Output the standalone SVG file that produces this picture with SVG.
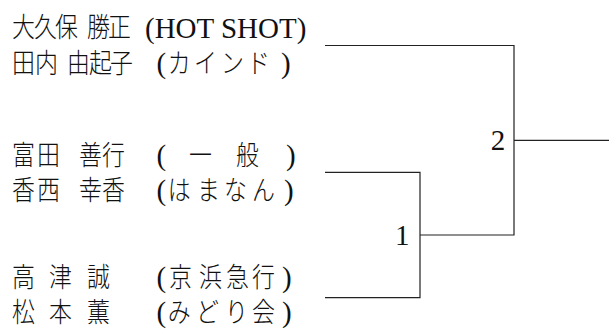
<svg xmlns="http://www.w3.org/2000/svg" width="613" height="329" viewBox="0 0 613 329">
<style>
.cj{font-family:"Noto Sans CJK JP","Noto Sans CJK SC",sans-serif;font-size:27px;font-weight:300;fill:#111}
.lt{font-family:"Liberation Serif","Noto Sans CJK JP",serif;font-size:29px;fill:#111}
.num{font-family:"Liberation Serif",serif;font-size:29px;fill:#111}
.ln{fill:none;stroke:#222;stroke-width:1.2}
</style>
<rect width="613" height="329" fill="#fff"/>
<g id="connectors">
<polyline class="ln" points="325,45.5 514,45.5 514,235 420,235"/>
<line class="ln" x1="514" y1="140.3" x2="609" y2="140.3"/>
<polyline class="ln" points="325,172.3 420,172.3 420,297.7 325,297.7"/>
</g>
<g id="p1">
<g transform="scale(0.85 1)"><text class="cj" x="14.1 40 64.7 102.4 127.1" y="37.5">大久保勝正</text></g>
<text class="lt" x="145" y="37.5">(HOT SHOT)</text>
</g>
<g id="p2">
<g transform="scale(0.85 1)"><text class="cj" x="14.1 41.2 78.8 104.7 129.4" y="73">田内由起子</text>
<text class="cj" x="197.5 228.2 260 290.6" y="73">カインド</text></g>
<text class="lt" x="156.5" y="73">(</text>
<text class="lt" x="281" y="73">)</text>
</g>
<g id="p3">
<g transform="scale(0.85 1)"><text class="cj" x="14.1 43.5 92.9 120" y="165">富田善行</text>
<text class="cj" x="222.4 277.6" y="165">一般</text></g>
<text class="lt" x="156.5" y="165">(</text>
<text class="lt" x="286" y="165">)</text>
</g>
<g id="p4">
<g transform="scale(0.85 1)"><text class="cj" x="14.1 43.5 92.9 120" y="200">香西幸香</text>
<text class="cj" x="197.5 231.8 263.5 296.5" y="200">はまなん</text></g>
<text class="lt" x="156.5" y="200">(</text>
<text class="lt" x="284" y="200">)</text>
</g>
<g id="p5">
<g transform="scale(0.85 1)"><text class="cj" x="14.1 57.6 102.4" y="287">高津誠</text>
<text class="cj" x="198.8 234.1 265.9 296.5" y="287">京浜急行</text></g>
<text class="lt" x="156.5" y="287">(</text>
<text class="lt" x="282" y="287">)</text>
</g>
<g id="p6">
<g transform="scale(0.85 1)"><text class="cj" x="14.1 57.6 102.4" y="322">松本薫</text>
<text class="cj" x="197.5 230.6 264.7 296.5" y="322">みどり会</text></g>
<text class="lt" x="156.5" y="322">(</text>
<text class="lt" x="282" y="322">)</text>
</g>
<g id="m2"><text class="num" x="490.8" y="150">2</text></g>
<g id="m1"><text class="num" x="395" y="245">1</text></g>
</svg>
